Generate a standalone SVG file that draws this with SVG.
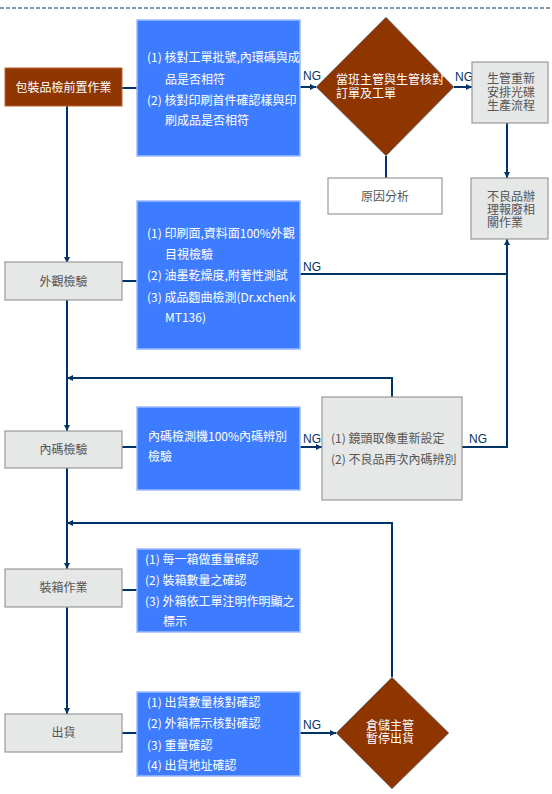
<svg xmlns="http://www.w3.org/2000/svg" width="552" height="794" viewBox="0 0 552 794">
<style>
.blue{fill:#3E7CFF;stroke:#9DBBFF;stroke-width:1.5}
.grey{fill:#E6E7E7;stroke:#9A9A9A;stroke-width:1.2}
.white{fill:#FFFFFF;stroke:#9A9A9A;stroke-width:1.2}
.brown{fill:#8E3500;stroke:#C0622A;stroke-width:1}
.dia{fill:#8E3500;stroke:#7FA9C9;stroke-width:0.8}
.ln{fill:none;stroke:#003366;stroke-width:2}
.wt{font-family:"Noto Sans CJK TC","Noto Sans CJK SC",sans-serif;font-size:12px;fill:#FFFFFF}
.gt{font-family:"Noto Sans CJK TC","Noto Sans CJK SC",sans-serif;font-size:12px;fill:#555555}
.ng{font-family:"Liberation Sans",Arial,sans-serif;font-size:12px;fill:#003366}
</style>
<defs>
<marker id="ah" viewBox="0 0 6 6" refX="6" refY="3" markerWidth="6" markerHeight="6" markerUnits="userSpaceOnUse" orient="auto">
<path d="M0,0 L6,3 L0,6 z" fill="#003366"/>
</marker>
</defs>
<rect width="552" height="794" fill="#FFFFFF"/>
<line x1="0" y1="8" x2="552" y2="8" stroke="#003366" stroke-width="1" stroke-dasharray="4,2"/>

<g id="connectors">
<line class="ln" x1="67" y1="106" x2="67" y2="263" marker-end="url(#ah)"/>
<line class="ln" x1="67" y1="300" x2="67" y2="431" marker-end="url(#ah)"/>
<line class="ln" x1="67" y1="468" x2="67" y2="569" marker-end="url(#ah)"/>
<line class="ln" x1="67" y1="607" x2="67" y2="714" marker-end="url(#ah)"/>
<line class="ln" x1="122" y1="88" x2="137" y2="88"/>
<line class="ln" x1="122" y1="281" x2="137" y2="281"/>
<line class="ln" x1="122" y1="447" x2="137" y2="447"/>
<line class="ln" x1="122" y1="590" x2="137" y2="590"/>
<line class="ln" x1="122" y1="733" x2="137" y2="733"/>
<line class="ln" x1="300" y1="87" x2="316" y2="87" marker-end="url(#ah)"/>
<line class="ln" x1="454" y1="87" x2="472" y2="87" marker-end="url(#ah)"/>
<line class="ln" x1="386" y1="156" x2="386" y2="178"/>
<line class="ln" x1="507" y1="123" x2="507" y2="178" marker-end="url(#ah)"/>
<line class="ln" x1="300" y1="274" x2="507" y2="274"/>
<polyline class="ln" points="462,447 507,447 507,239" marker-end="url(#ah)"/>
<line class="ln" x1="300" y1="447" x2="322" y2="447" marker-end="url(#ah)"/>
<polyline class="ln" points="392,397 392,378 67,378" marker-end="url(#ah)"/>
<polyline class="ln" points="392,677 392,523 67,523" marker-end="url(#ah)"/>
<line class="ln" x1="300" y1="733" x2="336" y2="733" marker-end="url(#ah)"/>
<text class="ng" x="303" y="80">NG</text>
<text class="ng" x="455" y="81">NG</text>
<text class="ng" x="303" y="271">NG</text>
<text class="ng" x="303" y="443">NG</text>
<text class="ng" x="469" y="443">NG</text>
<text class="ng" x="303" y="729">NG</text>
</g>

<g id="n_pre">
<rect class="brown" x="5" y="68" width="117" height="38"/>
<text class="wt" x="63.5" y="92" text-anchor="middle">包裝品檢前置作業</text>
</g>

<g id="b1">
<rect class="blue" x="137" y="20" width="163" height="136"/>
<text class="wt" x="147" y="62">(1) 核對工單批號,內環碼與成</text>
<text class="wt" x="165" y="84">品是否相符</text>
<text class="wt" x="147" y="105">(2) 核對印刷首件確認樣與印</text>
<text class="wt" x="165" y="125">刷成品是否相符</text>
</g>

<g id="d1">
<polygon class="dia" points="386,17 454,87 386,156 316,87"/>
<text class="wt" x="336" y="84">當班主管與生管核對<tspan x="336" dy="14">訂單及工單</tspan></text>
</g>

<g id="n_replan">
<rect class="grey" x="472" y="62" width="76" height="61"/>
<text class="gt" x="487" y="83" font-size="11.5">生管重新<tspan x="487" dy="13.5">安排光碟</tspan><tspan x="487" dy="13.5">生產流程</tspan></text>
</g>

<g id="n_cause">
<rect class="white" x="328" y="178" width="114" height="36"/>
<text class="gt" x="385" y="201" text-anchor="middle">原因分析</text>
</g>

<g id="n_scrap">
<rect class="grey" x="471" y="178" width="77" height="61"/>
<text class="gt" x="487" y="200.5" font-size="11.5">不良品辦<tspan x="487" dy="13">理報廢相</tspan><tspan x="487" dy="13">關作業</tspan></text>
</g>

<g id="n_visual">
<rect class="grey" x="5" y="262" width="117" height="38"/>
<text class="gt" x="63.5" y="286" text-anchor="middle">外觀檢驗</text>
</g>

<g id="b2">
<rect class="blue" x="137" y="201" width="163" height="148"/>
<text class="wt" x="147" y="238">(1) 印刷面,資料面100%外觀</text>
<text class="wt" x="165" y="259">目視檢驗</text>
<text class="wt" x="147" y="280">(2) 油墨乾燥度,附著性測試</text>
<text class="wt" x="147" y="302">(3) 成品麴曲檢測(Dr.xchenk</text>
<text class="wt" x="165" y="322">MT136)</text>
</g>

<g id="n_code">
<rect class="grey" x="5" y="431" width="117" height="37"/>
<text class="gt" x="63.5" y="454" text-anchor="middle">內碼檢驗</text>
</g>

<g id="b3">
<rect class="blue" x="137" y="407" width="163" height="83"/>
<text class="wt" x="148" y="441">內碼檢測機100%內碼辨別</text>
<text class="wt" x="148" y="461">檢驗</text>
</g>

<g id="n_lens">
<rect class="grey" x="322" y="397" width="140" height="103"/>
<text class="gt" x="331" y="443">(1) 鏡頭取像重新設定</text>
<text class="gt" x="331" y="464">(2) 不良品再次內碼辨別</text>
</g>

<g id="n_pack">
<rect class="grey" x="5" y="569" width="117" height="38"/>
<text class="gt" x="63.5" y="592" text-anchor="middle">裝箱作業</text>
</g>

<g id="b4">
<rect class="blue" x="137" y="549" width="163" height="83"/>
<text class="wt" x="145" y="564">(1) 每一箱做重量確認</text>
<text class="wt" x="145" y="585">(2) 裝箱數量之確認</text>
<text class="wt" x="145" y="606">(3) 外箱依工單注明作明顯之</text>
<text class="wt" x="163" y="626">標示</text>
</g>

<g id="n_ship">
<rect class="grey" x="5" y="714" width="117" height="38"/>
<text class="gt" x="63.5" y="737" text-anchor="middle">出貨</text>
</g>

<g id="b5">
<rect class="blue" x="137" y="692" width="163" height="84"/>
<text class="wt" x="147" y="707">(1) 出貨數量核對確認</text>
<text class="wt" x="147" y="728">(2) 外箱標示核對確認</text>
<text class="wt" x="147" y="750">(3) 重量確認</text>
<text class="wt" x="147" y="770">(4) 出貨地址確認</text>
</g>

<g id="d2">
<polygon class="dia" points="392,677 449,733 392,789 336,733"/>
<text class="wt" x="390" y="730" text-anchor="middle" font-size="11.5">倉儲主管<tspan x="390" dy="13">暫停出貨</tspan></text>
</g>
</svg>
